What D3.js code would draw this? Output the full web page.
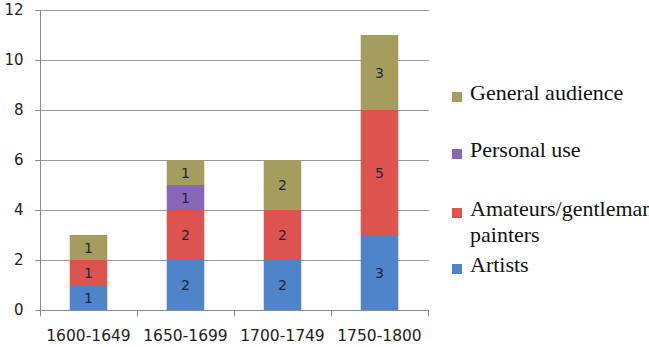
<!DOCTYPE html>
<html>
<head>
<meta charset="utf-8">
<script src="https://cdn.jsdelivr.net/npm/d3@7"></script>
</head>
<body style="margin:0">
<div id="wrap" style="position:relative;width:649px;height:347px;">
<svg id="chart" width="649" height="347" style="position:absolute;left:0;top:0;"></svg>
</div>
<script>
// Periods on the x axis
const periods = ["1600-1649", "1650-1699", "1700-1749", "1750-1800"];
// Counts per audience group, one value per period
const artists   = [1, 2, 2, 3];
const amateurs  = [1, 2, 2, 5];
const personal  = [0, 1, 0, 0];
const general   = [1, 1, 2, 3];
// Series names, bottom to top of each stack
const seriesNames = ["Artists", "Amateurs/gentleman painters", "Personal use", "General audience"];
const seriesColors = ["#4F84C9", "#DC5350", "#8767B6", "#A59D5D"];
// Y-axis ticks
const yTicks = [0, 2, 4, 6, 8, 10, 12];

const rows = periods.map((p, i) => ({
  period: p,
  "Artists": artists[i],
  "Amateurs/gentleman painters": amateurs[i],
  "Personal use": personal[i],
  "General audience": general[i]
}));

const svg = d3.select("#chart");
const plot = { left: 40, right: 428, top: 10, bottom: 310 };
const sansFont = "'DejaVu Sans'";

const y = d3.scaleLinear().domain([0, 12]).range([plot.bottom, plot.top]);
const xOuter = d3.scaleBand().domain(periods).range([plot.left, plot.right]).padding(0);
const x = d3.scaleBand().domain(periods).range([plot.left, plot.right])
  .paddingInner(0.613).paddingOuter(0.3065);
const color = d3.scaleOrdinal().domain(seriesNames).range(seriesColors);

// Horizontal gridlines
svg.append("g")
  .selectAll("line")
  .data(yTicks.filter(t => t > 0))
  .join("line")
  .attr("x1", plot.left - 5).attr("x2", plot.right + 1)
  .attr("y1", d => y(d) + 0.5).attr("y2", d => y(d) + 0.5)
  .attr("stroke", "#9a9a9a").attr("stroke-width", 1);

// Stacked bars
const stacked = d3.stack().keys(seriesNames)(rows);
const layers = svg.append("g").selectAll("g")
  .data(stacked)
  .join("g")
  .attr("fill", d => color(d.key));

layers.selectAll("rect")
  .data(d => d.filter(s => s[1] - s[0] > 0))
  .join("rect")
  .attr("x", d => x(d.data.period))
  .attr("width", x.bandwidth())
  .attr("y", d => y(d[1]))
  .attr("height", d => y(d[0]) - y(d[1]));

// Segment value labels
layers.selectAll("text")
  .data(d => d.filter(s => s[1] - s[0] > 0))
  .join("text")
  .attr("x", d => x(d.data.period) + x.bandwidth() / 2)
  .attr("y", d => (y(d[0]) + y(d[1])) / 2)
  .attr("dy", "0.36em")
  .attr("text-anchor", "middle")
  .style("font-family", sansFont)
  .attr("font-size", 14)
  .attr("fill", "#1c2540")
  .text(d => d[1] - d[0]);

// Y axis
const yAxis = svg.append("g")
  .attr("transform", `translate(${plot.left + 0.5},0)`)
  .call(d3.axisLeft(y).tickValues(yTicks).tickSize(5).tickPadding(12).tickFormat(d3.format("d")));
yAxis.select(".domain").attr("stroke", "#8a8a8a").attr("d", `M0,${plot.top}V${plot.bottom}`);
yAxis.selectAll(".tick line").attr("stroke", "#8a8a8a");
yAxis.selectAll(".tick text")
  .style("font-family", sansFont)
  .attr("font-size", 15)
  .attr("fill", "#222");

// X axis with ticks on the period boundaries
const xAxisG = svg.append("g").attr("transform", `translate(0,${plot.bottom + 0.5})`);
xAxisG.append("line")
  .attr("x1", plot.left).attr("x2", plot.right + 1)
  .attr("stroke", "#8a8a8a");
const boundaries = periods.map(p => xOuter(p)).concat([xOuter(periods[periods.length - 1]) + xOuter.bandwidth()]);
xAxisG.selectAll("line.tick")
  .data(boundaries)
  .join("line")
  .attr("class", "tick")
  .attr("x1", d => Math.round(d) + 0.5).attr("x2", d => Math.round(d) + 0.5)
  .attr("y1", 0).attr("y2", 6)
  .attr("stroke", "#8a8a8a");
xAxisG.selectAll("text")
  .data(periods)
  .join("text")
  .attr("x", d => xOuter(d) + xOuter.bandwidth() / 2)
  .attr("y", 30)
  .attr("text-anchor", "middle")
  .style("font-family", sansFont)
  .attr("font-size", 15.5)
  .attr("fill", "#222")
  .text(d => d);

// Legend, listed top to bottom in reverse stacking order
const legendItems = [
  { key: "General audience", lines: ["General audience"], baseline: 104 },
  { key: "Personal use", lines: ["Personal use"], baseline: 161 },
  { key: "Amateurs/gentleman painters", lines: ["Amateurs/gentleman", "painters"], baseline: 220 },
  { key: "Artists", lines: ["Artists"], baseline: 276 }
];
const legendX = 452;
svg.selectAll("rect.swatch")
  .data(legendItems)
  .join("rect")
  .attr("class", "swatch")
  .attr("x", legendX)
  .attr("y", d => d.baseline - 12)
  .attr("width", 10).attr("height", 10)
  .attr("fill", d => color(d.key));

// Legend labels as HTML lines laid over the svg, in a serif face
const legendFontSize = 22;
const legendLines = legendItems.flatMap(d => d.lines.map((line, i) => ({ line, baseline: d.baseline + i * 26 })));
d3.select("#wrap").selectAll("div.legend-line")
  .data(legendLines)
  .join("div")
  .attr("class", "legend-line")
  .style("position", "absolute")
  .style("left", (legendX + 18) + "px")
  .style("top", d => (d.baseline - legendFontSize) + "px")
  .style("height", legendFontSize + "px")
  .style("line-height", legendFontSize + "px")
  .style("font-family", "'Liberation Serif'")
  .style("font-size", legendFontSize + "px")
  .style("white-space", "nowrap")
  .style("color", "#111")
  .text(d => d.line);
</script>
</body>
</html>
